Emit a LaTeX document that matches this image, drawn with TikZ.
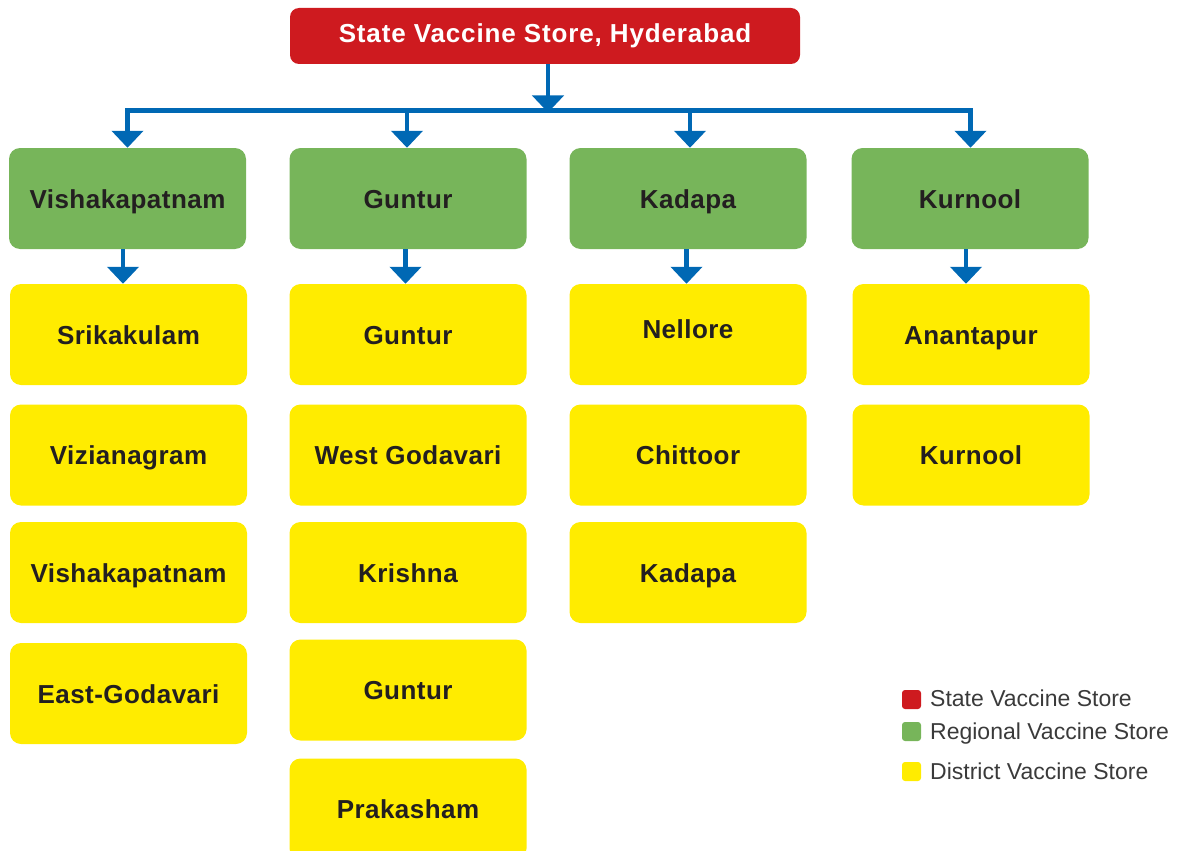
\documentclass[tikz,border=0pt]{standalone}
\usepackage{fontspec}
\setmainfont{Liberation Sans}
\newfontfamily\boxfont[LetterSpace=1.8]{Liberation Sans}
\newfontfamily\titlefont[LetterSpace=3.3]{Liberation Sans}
\usetikzlibrary{arrows.meta}
\definecolor{storered}{HTML}{CE1A1F}
\definecolor{storegreen}{HTML}{77B55A}
\definecolor{storeyellow}{HTML}{FFEC00}
\definecolor{linkblue}{HTML}{0068B4}
\definecolor{inkdark}{HTML}{231F20}
\definecolor{legendink}{HTML}{3A3A3A}
\tikzset{
  box/.style={rectangle, rounded corners=11pt, minimum width=237pt, minimum height=101pt,
    inner sep=0pt, text=inkdark, font=\boxfont\fontsize{26}{28}\selectfont\bfseries,
    text height=19pt, text depth=0pt},
  statebox/.style={box, fill=storered, text=white, rounded corners=9pt,
    minimum width=510pt, minimum height=56pt,
    font=\titlefont\fontsize{26}{28}\selectfont\bfseries},
  regionbox/.style={box, fill=storegreen},
  districtbox/.style={box, fill=storeyellow},
  tip/.tip={Triangle[width=31pt,length=17pt]},
  conn/.style={draw=linkblue, line width=4.5pt, -tip},
  bus/.style={draw=linkblue, line width=4.5pt, tip-tip, line join=miter},
  keybox/.style={rectangle, rounded corners=3pt, minimum size=19pt, inner sep=0pt},
  keytext/.style={anchor=west, inner sep=0pt, text=legendink,
    font=\fontsize{23}{25}\selectfont, text height=16.5pt, text depth=0pt}
}
\begin{document}
\begin{tikzpicture}[x=1pt,y=-1pt]
\useasboundingbox (0,0) rectangle (1187,851);
\clip (0,0) rectangle (1187,851);

% state store
\node[statebox] (svs) at (545,36) {\raisebox{3pt}{State Vaccine Store, Hyderabad}};

% regional stores
\node[regionbox] (r1) at (127.5,198.5) {Vishakapatnam};
\node[regionbox] (r2) at (408,198.5) {Guntur};
\node[regionbox] (r3) at (688,198.5) {Kadapa};
\node[regionbox] (r4) at (970,198.5) {Kurnool};

% district stores, column 1
\node[districtbox] (d11) at (128.5,334.5) {Srikakulam};
\node[districtbox] (d12) at (128.5,455) {Vizianagram};
\node[districtbox] (d13) at (128.5,572.5) {Vishakapatnam};
\node[districtbox] (d14) at (128.5,693.5) {East-Godavari};
% column 2
\node[districtbox] (d21) at (408,334.5) {Guntur};
\node[districtbox] (d22) at (408,455) {West Godavari};
\node[districtbox] (d23) at (408,572.5) {Krishna};
\node[districtbox] (d24) at (408,690) {Guntur};
\node[districtbox] (d25) at (408,809) {Prakasham};
% column 3
\node[districtbox] (d31) at (688,334.5) {\raisebox{6pt}{Nellore}};
\node[districtbox] (d32) at (688,455) {Chittoor};
\node[districtbox] (d33) at (688,572.5) {Kadapa};
% column 4
\node[districtbox] (d41) at (971,334.5) {Anantapur};
\node[districtbox] (d42) at (971,455) {Kurnool};

% distribution bus
\coordinate (b1) at (127.5,110.5);
\coordinate (b2) at (407,110.5);
\coordinate (b3) at (690,110.5);
\coordinate (b4) at (970.5,110.5);
\coordinate (bs) at (548,110.5);

\draw[conn] (svs.south -| bs) -- ([yshift=-2pt]bs);
\draw[bus] (r1.north -| b1) -- (b1) -- (b4) -- (r4.north -| b4);
\draw[conn] (b2) -- (r2.north -| b2);
\draw[conn] (b3) -- (r3.north -| b3);

% regional to first district
\draw[conn] ([xshift=-4.5pt]r1.south) -- ([xshift=-5.5pt]d11.north);
\draw[conn] ([xshift=-2.5pt]r2.south) -- ([xshift=-2.5pt]d21.north);
\draw[conn] ([xshift=-1.5pt]r3.south) -- ([xshift=-1.5pt]d31.north);
\draw[conn] ([xshift=-4pt]r4.south) -- ([xshift=-5pt]d41.north);

% legend
\node[keybox, fill=storered] (kred) at (911.5,699.5) {};
\node[keybox, fill=storegreen] (kgreen) at (911.5,731.5) {};
\node[keybox, fill=storeyellow] (kyellow) at (911.5,771.5) {};
\node[keytext] (tred) at (930,698.5) {State Vaccine Store};
\node[keytext] (tgreen) at (930,731.5) {Regional Vaccine Store};
\node[keytext] (tyellow) at (930,771) {District Vaccine Store};
\end{tikzpicture}
\end{document}
